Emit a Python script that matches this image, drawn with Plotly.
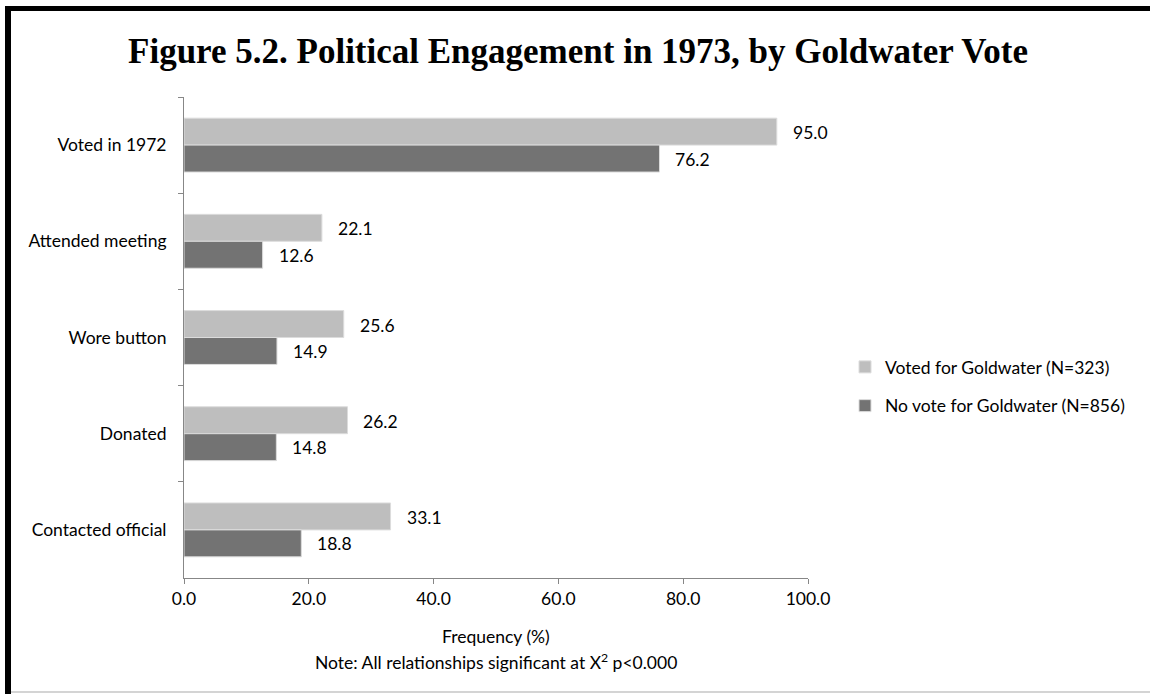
import plotly.graph_objects as go

categories = ["Voted in 1972", "Attended meeting", "Wore button", "Donated", "Contacted official"]
voted_goldwater = [95.0, 22.1, 25.6, 26.2, 33.1]
no_vote_goldwater = [76.2, 12.6, 14.9, 14.8, 18.8]
series_names = ["Voted for Goldwater (N=323)", "No vote for Goldwater (N=856)"]
x_ticks = [0, 20, 40, 60, 80, 100]
x_tick_labels = ["0.0", "20.0", "40.0", "60.0", "80.0", "100.0"]

W, H = 1150, 694
L, R, T, B = 184, 808, 97, 578
FONT = "Lato"
FS = 17.5

def px_x(p):
    return (p - L) / (R - L)

def px_y(p):
    return (B - p) / (B - T)

colors = ["#BEBEBE", "#737373"]
fig = go.Figure()
for name, vals, col, grp in [(series_names[0], voted_goldwater, colors[0], "a"),
                             (series_names[1], no_vote_goldwater, colors[1], "b")]:
    fig.add_trace(go.Bar(
        y=categories, x=vals, orientation="h", name=name,
        marker=dict(color=col, line=dict(color="#dcdcdc", width=1)),
        legendgroup=grp, hoverinfo="x+y",
    ))

annotations = []
for vals, shift in [(voted_goldwater, 12.5), (no_vote_goldwater, -14)]:
    for c, v in zip(categories, vals):
        annotations.append(dict(
            x=v, y=c, xref="x", yref="y", text=f"{v:.1f}", showarrow=False,
            xanchor="left", yanchor="middle", xshift=14, yshift=shift,
            font=dict(family=FONT, size=FS, color="#000000"),
        ))

annotations.append(dict(x=0.5, y=px_y(636), xref="paper", yref="paper",
                        text="Frequency (%)", showarrow=False,
                        xanchor="center", yanchor="middle",
                        font=dict(family=FONT, size=FS, color="#000000")))
annotations.append(dict(x=0.5, y=px_y(661), xref="paper", yref="paper",
                        text="Note: All relationships significant at X<sup>2</sup> p<0.000",
                        showarrow=False, xanchor="center", yanchor="middle",
                        font=dict(family=FONT, size=FS, color="#000000")))

shapes = [
    dict(type="rect", xref="paper", yref="paper", x0=px_x(5), x1=px_x(1150),
         y0=px_y(11), y1=px_y(6), line=dict(width=0), fillcolor="black"),
    dict(type="rect", xref="paper", yref="paper", x0=px_x(5), x1=px_x(11),
         y0=px_y(694), y1=px_y(6), line=dict(width=0), fillcolor="black"),
    dict(type="line", xref="paper", yref="paper", x0=px_x(11), x1=px_x(1150),
         y0=px_y(692), y1=px_y(692), line=dict(color="#d4d4d4", width=2)),
]

fig.update_layout(
    width=W, height=H,
    margin=dict(l=L, r=W - R, t=T, b=H - B, pad=0),
    paper_bgcolor="white", plot_bgcolor="white",
    barmode="group", bargap=0.44, bargroupgap=0,
    font=dict(family=FONT, size=FS, color="#000000"),
    title=dict(text="<b>Figure 5.2. Political Engagement in 1973, by Goldwater Vote</b>",
               x=578 / W, xanchor="center", y=1 - 51 / H, yanchor="middle",
               font=dict(family="Liberation Serif", size=35, color="#000000")),
    xaxis=dict(range=[0, 100], tickvals=x_ticks, ticktext=x_tick_labels,
               showgrid=False, zeroline=False, showline=True, linecolor="#878787",
               linewidth=1, ticks="outside", ticklen=5, tickcolor="#878787",
               tickfont=dict(family=FONT, size=FS, color="#000000"), fixedrange=True),
    yaxis=dict(categoryorder="array", categoryarray=categories, autorange="reversed",
               showgrid=False, zeroline=False, showline=True, linecolor="#878787",
               linewidth=1, ticks="outside", ticklen=5, tickcolor="#878787",
               tickson="boundaries", ticklabelstandoff=13,
               tickfont=dict(family=FONT, size=FS, color="#000000"), fixedrange=True),
    legend=dict(x=px_x(845), y=px_y(386.5), xanchor="left", yanchor="middle",
                font=dict(family=FONT, size=FS, color="#000000"),
                tracegroupgap=13, itemwidth=30, bgcolor="rgba(0,0,0,0)"),
    annotations=annotations,
    shapes=shapes,
    showlegend=True,
)

fig.write_html("out.html", config={"displayModeBar": False},
               post_script="document.body.style.margin='0';document.body.style.overflow='hidden';")
